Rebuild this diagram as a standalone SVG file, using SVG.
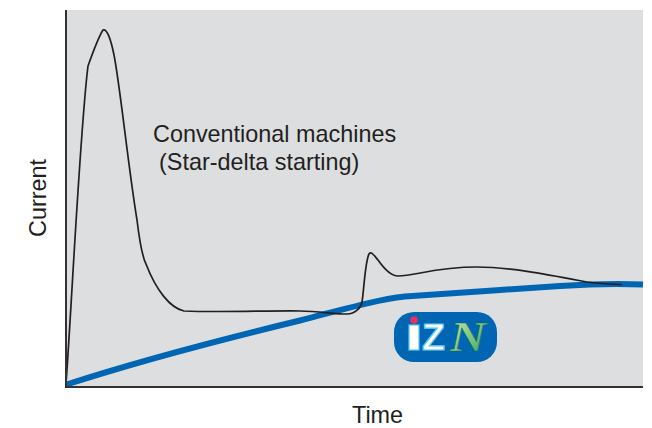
<svg xmlns="http://www.w3.org/2000/svg" width="652" height="428" viewBox="0 0 652 428">
<style>
.lbl{font-family:"Liberation Sans",Arial,sans-serif;font-size:23.4px;fill:#231f20}
.axis{fill:none;stroke:#333132;stroke-width:2}
.thin{fill:none;stroke:#231f20;stroke-width:1.700;stroke-linejoin:round;stroke-linecap:round}
.blue{fill:none;stroke:#0066b3;stroke-width:6}
</style>
<defs>
<linearGradient id="ng" x1="0" y1="0" x2="1" y2="1"><stop offset="0" stop-color="#d8ecb0"/><stop offset="0.55" stop-color="#7cc47f"/><stop offset="1" stop-color="#1f9a55"/></linearGradient>
</defs>
<rect x="66" y="10" width="577" height="377" fill="#dddee0"/>
<g id="connectors">
<path class="blue" d="M66.500 384.500C130 364 215 341 300 320.500C345 309 375 300 405 296.500C450 293 510 289.500 560 286C590 284 620 283.500 643 284.500"/>
<path class="thin" d="M66 384C72 300 80 130 88 66C93 52 99 36 103 30C107 28 111 40 114 55C120 85 128 165 137 220C140 245 143 258 146 264C156 290 170 308 184 311C220 312.500 270 310.500 300 311C320 311.500 335 314 347 314C355 313.500 361 308 362 302C364 290 365 262 369 254C371 251 373 254 378 260C385 270 392 276 398 276C415 276 435 267 477 267C510 267 550 275 587 282C600 284 610 284 621 284.500"/>
</g>
<g id="axes">
<path class="axis" d="M66 10V387H643"/>
</g>
<g id="y-label"><text class="lbl" transform="translate(46 237) rotate(-90)">Current</text></g>
<g id="x-label"><text class="lbl" x="352" y="423">Time</text></g>
<g id="curve-label">
<text class="lbl" x="153" y="142">Conventional machines</text>
<text class="lbl" x="159" y="170">(Star-delta starting)</text>
</g>
<g id="logo">
<rect x="394" y="312" width="103" height="50" rx="20" fill="#0066b3"/>
<g font-family="'Liberation Sans',Arial,sans-serif" font-weight="700" fill="#fff" stroke="#5cc8ef" stroke-width="1.200">
<rect x="409" y="325" width="10" height="25"/>
<text x="422" y="350" font-size="36" textLength="23" lengthAdjust="spacingAndGlyphs">Z</text>
</g>
<circle cx="414" cy="320" r="3.800" fill="#e8305f"/>
<text x="450" y="351" font-family="'Liberation Serif','Times New Roman',serif" font-style="italic" font-weight="700" font-size="43" textLength="36" lengthAdjust="spacingAndGlyphs" fill="url(#ng)" stroke="#14663d" stroke-width="0.400">N</text>
</g>
</svg>
